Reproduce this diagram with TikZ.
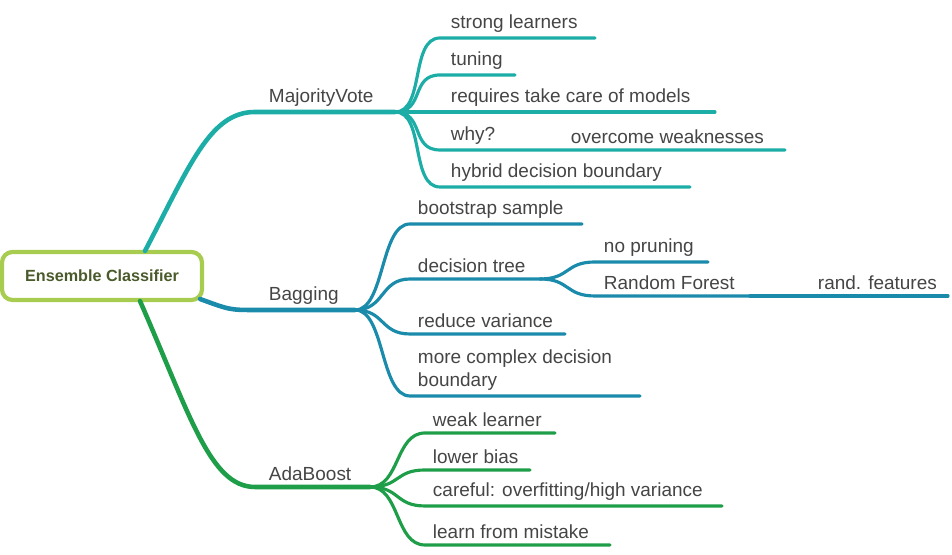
\documentclass[tikz,border=0pt]{standalone}
\usepackage{fontspec}
\setmainfont{Liberation Sans}
\definecolor{textgray}{HTML}{454545}
\definecolor{majcol}{HTML}{1BADA6}
\definecolor{bagcol}{HTML}{1A8BAA}
\definecolor{adacol}{HTML}{1E9E48}
\definecolor{rootcol}{HTML}{A8CC50}
\definecolor{roottext}{HTML}{4A5A2A}

\tikzset{
  leaf/.style={anchor=south west, inner sep=1.5pt, text=textgray, font=\fontsize{5.4}{6.4}\selectfont},
  branch/.style={line width=0.9pt, line cap=round},
  trunk/.style={line width=1.3pt, line cap=round}
}

\begin{document}
\begin{tikzpicture}
    \useasboundingbox (0,0) rectangle (9.52,5.55);
        \node[draw=rootcol, line width=1.2pt, rounded corners=3pt, minimum width=2cm, minimum height=0.48cm, text=roottext, font=\bfseries\fontsize{4.6}{5.5}\selectfont] (root) at (1.02,2.79) {Ensemble Classifier};

        % main branches
        \coordinate (mvhub) at (3.95,4.43);
        \coordinate (baghub) at (3.55,2.45);
        \coordinate (adahub) at (3.70,0.68);
        \draw[trunk, majcol] (1.45,3.04) .. controls (1.9,3.9) and (2.1,4.43) .. (2.55,4.43) -- (mvhub);
        \draw[trunk, bagcol] (2.0,2.56) .. controls (2.3,2.45) .. (2.55,2.45) -- (baghub);
        \draw[trunk, adacol] (1.40,2.54) .. controls (1.9,1.4) and (2.1,0.68) .. (2.55,0.68) -- (adahub);
        \node[leaf] (mv) at (2.63,4.43) {MajorityVote};
        \node[leaf] (bag) at (2.63,2.45) {Bagging};
        \node[leaf] (ada) at (2.63,0.68) {AdaBoost};

        % MajorityVote
        \foreach \y/\e/\t/\n in {5.17/5.95/strong learners/sl, 4.80/5.15/tuning/tu, 4.43/7.15/requires take care of models/rt, 4.05/7.85/why?/wy, 3.68/6.90/hybrid decision boundary/hd} {
            \draw[branch, majcol] (mvhub) .. controls +(0.3,0) and (4.10,\y) .. (4.40,\y) -- (\e,\y);
            \node[leaf] (\n) at (4.45,\y) {\t};
        }
        \node[leaf] (ow) at (5.65,4.05) {overcome weaknesses};

        % Bagging
        \foreach \y/\e/\t/\n in {3.31/5.82/bootstrap sample/bs, 2.76/5.40/decision tree/dt, 2.21/5.65/reduce variance/rv} {
            \draw[branch, bagcol] (baghub) .. controls +(0.3,0) and (3.80,\y) .. (4.10,\y) -- (\e,\y);
            \node[leaf] (\n) at (4.12,\y) {\t};
        }
        \draw[branch, bagcol] (baghub) .. controls +(0.3,0) and (3.80,1.59) .. (4.10,1.59) -- (6.40,1.59);
        \node[leaf, align=left] (mc) at (4.12,1.59) {more complex decision\\boundary};
        \coordinate (dthub) at (5.40,2.76);
        \foreach \y/\e/\t/\n in {2.93/7.08/no pruning/np, 2.59/7.50/Random Forest/rf} {
            \draw[branch, bagcol] (dthub) .. controls +(0.3,0) and (5.65,\y) .. (5.95,\y) -- (\e,\y);
            \node[leaf] (\n) at (5.98,\y) {\t};
        }
        \draw[branch, bagcol] (7.50,2.59) -- (9.48,2.59);
        \node[leaf] (rnd) at (8.12,2.59) {rand. features};

        % AdaBoost
        \foreach \y/\e/\t/\n in {1.22/5.55/weak learner/wl, 0.85/5.30/lower bias/lb, 0.49/7.22/{careful: overfitting/high variance}/cf, 0.10/6.10/learn from mistake/lm} {
            \draw[branch, adacol] (adahub) .. controls +(0.3,0) and (3.95,\y) .. (4.25,\y) -- (\e,\y);
            \node[leaf] (\n) at (4.27,\y) {\t};
        }
\end{tikzpicture}
\end{document}
